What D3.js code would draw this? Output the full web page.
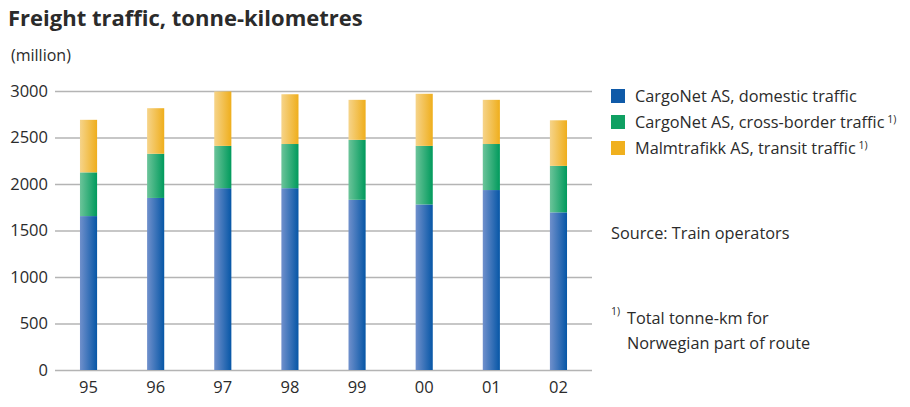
<!DOCTYPE html>
<html>
<head>
<meta charset="utf-8">
<script src="https://cdn.jsdelivr.net/npm/d3@7"></script>
<style>
  body { margin: 0; background: #fff; }
  text { font-family: "Open Sans", sans-serif; fill: #2b2b2b; }
  .chartTitle { font-weight: bold; font-size: 22px; }
  .axis text { font-size: 16.5px; }
  .legend text { font-size: 16.3px; }
</style>
</head>
<body>
<svg id="chart"></svg>
<script>
// Data (million tonne-km)
const years = ['95', '96', '97', '98', '99', '00', '01', '02'];
const domestic = [1655, 1850, 1955, 1955, 1830, 1780, 1935, 1695];
const crossBorder = [470, 475, 455, 475, 645, 630, 495, 500];
const transit = [565, 490, 585, 535, 430, 560, 475, 490];
const seriesNames = ['CargoNet AS, domestic traffic', 'CargoNet AS, cross-border traffic', 'Malmtrafikk AS, transit traffic'];
const yTicks = [0, 500, 1000, 1500, 2000, 2500, 3000];

const colors = [
  {light: '#7090cc', dark: '#0656a6', swatch: '#0f5aa8'},
  {light: '#6cc49a', dark: '#009a5c', swatch: '#0fa062'},
  {light: '#f6d48a', dark: '#efae1c', swatch: '#f0b01e'}
];

const width = 910, height = 407;
const margin = {top: 91, right: 318, bottom: 37, left: 55};
const innerW = width - margin.left - margin.right;
const innerH = height - margin.top - margin.bottom;

const svg = d3.select('#chart').attr('width', width).attr('height', height);

// horizontal gradients for the bars
const defs = svg.append('defs');
colors.forEach((c, i) => {
  const g = defs.append('linearGradient').attr('id', 'grad' + i)
      .attr('x1', '0%').attr('x2', '100%').attr('y1', '0%').attr('y2', '0%');
  g.append('stop').attr('offset', '0%').attr('stop-color', c.light);
  g.append('stop').attr('offset', '100%').attr('stop-color', c.dark);
});

const table = years.map((y, i) => ({year: y, s0: domestic[i], s1: crossBorder[i], s2: transit[i]}));
const stack = d3.stack().keys(['s0', 's1', 's2'])(table);

const x = d3.scaleBand().domain(years).range([0, innerW]).paddingInner(0.745).paddingOuter(0.372);
const y = d3.scaleLinear().domain([0, 3000]).range([innerH, 0]);

const chart = svg.append('g').attr('transform', `translate(${margin.left},${margin.top})`);

// gridlines + y labels
const yAxis = d3.axisLeft(y).tickValues(yTicks).tickSize(-innerW).tickPadding(7).tickFormat(d3.format('d'));
const yAxisG = chart.append('g').attr('class', 'axis y-axis').call(yAxis);
yAxisG.select('.domain').remove();
yAxisG.selectAll('line').attr('stroke', '#b4b4b4').attr('stroke-width', 1.5);

// bars
chart.selectAll('.series')
  .data(stack)
  .join('g')
    .attr('class', 'series')
    .attr('fill', (d, i) => `url(#grad${i})`)
  .selectAll('rect')
  .data(d => d)
  .join('rect')
    .attr('x', d => x(d.data.year))
    .attr('width', x.bandwidth())
    .attr('y', d => y(d[1]))
    .attr('height', d => y(d[0]) - y(d[1]));

// x labels
const xAxisG = chart.append('g').attr('class', 'axis x-axis')
  .attr('transform', `translate(0,${innerH})`)
  .call(d3.axisBottom(x).tickSize(0).tickPadding(11));
xAxisG.select('.domain').remove();

// title
svg.append('text').attr('class', 'chartTitle').attr('x', 8).attr('y', 26)
  .text('Freight traffic, tonne-kilometres');
svg.append('text').attr('x', 11).attr('y', 61).style('font-size', '16px').text('(million)');

// legend
const legend = svg.append('g').attr('class', 'legend').attr('transform', 'translate(611,0)');
const rowY = [96, 122, 148];
seriesNames.forEach((name, i) => {
  legend.append('rect').attr('x', 0).attr('y', rowY[i] - 7).attr('width', 14).attr('height', 14)
    .attr('fill', colors[i].swatch);
  const t = legend.append('text').attr('x', 24).attr('y', rowY[i]).attr('dy', '0.35em').text(name);
  if (i > 0) t.append('tspan').attr('dy', '-0.45em').style('font-size', '10.5px').text(' 1)');
});
legend.append('text').attr('x', 0).attr('y', 233).attr('dy', '0.35em').text('Source: Train operators');
const fn = legend.append('text').attr('x', 0).attr('y', 317).attr('dy', '0.35em');
fn.append('tspan').attr('dy', '-0.15em').style('font-size', '10.5px').text('1)');
fn.append('tspan').attr('dy', '0.5em').attr('x', 16).text('Total tonne-km for');
legend.append('text').attr('x', 16).attr('y', 343).attr('dy', '0.35em').text('Norwegian part of route');
</script>
</body>
</html>
